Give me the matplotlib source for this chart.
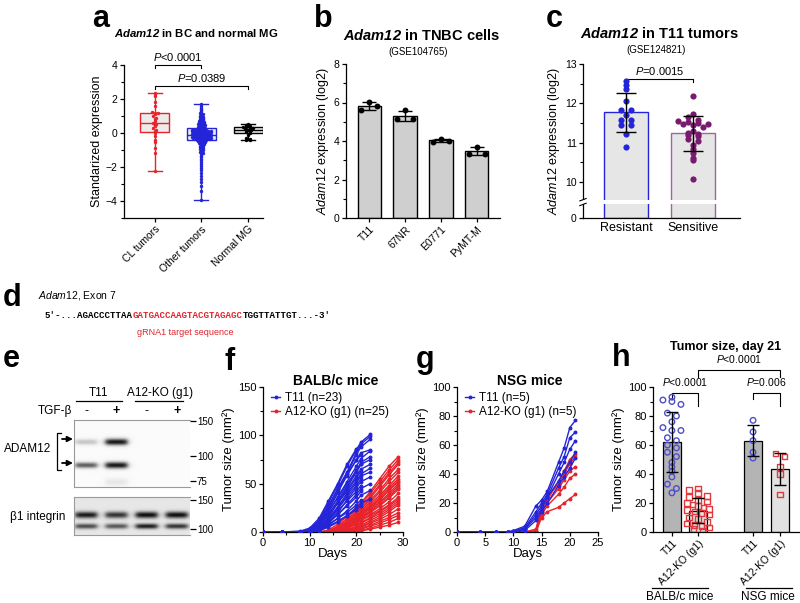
import numpy as np
import matplotlib
matplotlib.use('Agg')
import matplotlib.pyplot as plt
from matplotlib.lines import Line2D
from matplotlib.patches import Rectangle
from matplotlib.ticker import MultipleLocator, FixedLocator

plt.rcParams['font.family'] = ['Liberation Sans', 'DejaVu Sans']
plt.rcParams['font.size'] = 8
plt.rcParams['mathtext.fontset'] = 'custom'
plt.rcParams['mathtext.rm'] = 'Liberation Sans'
plt.rcParams['mathtext.it'] = 'Liberation Sans:italic'
plt.rcParams['mathtext.bf'] = 'Liberation Sans:bold'
plt.rcParams['mathtext.bfit'] = 'Liberation Sans:italic:bold'
plt.rcParams['axes.linewidth'] = 0.9
for a in ('xtick', 'ytick'):
    plt.rcParams[a + '.major.size'] = 3
    plt.rcParams[a + '.minor.size'] = 2
    plt.rcParams[a + '.major.width'] = 0.9
    plt.rcParams[a + '.minor.width'] = 0.8
    plt.rcParams[a + '.major.pad'] = 1.5

# ---------------- data ----------------
# a: Adam12 standardized expression
cl_tumors = [2.35, 2.3, 2.2, 1.85, 1.6, 1.25, 1.2, 1.15, 1.1, 1.0, 0.9, 0.8, 0.7, 0.6,
             0.55, 0.5, 0.4, 0.3, 0.2, 0.1, 0.0, -0.2, -0.4, -0.55, -0.9, -1.2, -2.25]
other_tumors = [1.72, 1.6, 1.5, 1.42, 1.35, 1.28, 1.2, 1.15, 1.1, 1.05, 1.0, 0.96, 0.92,
                0.88, 0.85, 0.82, 0.78, 0.75, 0.72, 0.7, 0.67, 0.64, 0.62, 0.6, 0.57, 0.55,
                0.52, 0.5, 0.48, 0.46, 0.44, 0.42, 0.4, 0.38, 0.36, 0.34, 0.32, 0.3, 0.28,
                0.26, 0.24, 0.22,
                0.2, 0.19, 0.18, 0.17, 0.16, 0.15, 0.15, 0.14, 0.13, 0.12, 0.12, 0.11, 0.1,
                0.09, 0.08, 0.08, 0.07, 0.06, 0.05, 0.04, 0.04, 0.03, 0.02, 0.01, 0.0, 0.0,
                -0.01, -0.02, -0.03, -0.04, -0.05, -0.05, -0.06, -0.07, -0.08, -0.09, -0.1,
                -0.1, -0.11, -0.12, -0.13, -0.14, -0.15, -0.15, -0.16, -0.17, -0.18, -0.19,
                -0.2, -0.2, -0.21, -0.22, -0.23, -0.24, -0.25, -0.25, -0.26, -0.27, -0.28,
                -0.29, -0.3, -0.3, -0.31, -0.32, -0.33, -0.34, -0.35, -0.35, -0.36, -0.37,
                -0.38, -0.39, -0.4, -0.4,
                -0.42, -0.44, -0.46, -0.48, -0.5, -0.52, -0.55, -0.58, -0.6, -0.63, -0.66,
                -0.7, -0.74, -0.78, -0.82, -0.86, -0.9, -0.95, -1.0, -1.05, -1.1, -1.15,
                -1.2, -1.28, -1.35, -1.42, -1.5, -1.6, -1.7, -1.8, -1.95, -2.05, -2.2,
                -2.35, -2.5, -2.7, -2.9, -3.1, -3.4, -3.95]
normal_mg = [0.55, 0.5, 0.45, 0.4, 0.35, 0.35, 0.3, 0.3, 0.25, 0.2, 0.2, 0.15, 0.1,
             0.05, 0.0, -0.1, -0.3, -0.35, -0.4, -0.4]
a_labels = ['CL tumors', 'Other tumors', 'Normal MG']

# b: TNBC cell lines
b_lines = ['T11', '67NR', 'E0771', 'PyMT-M']
b_values = [[6.05, 5.8, 5.6], [5.62, 5.15, 5.15], [4.12, 4.0, 3.97], [3.7, 3.35, 3.33]]

# c: T11 tumors
resistant = [12.56, 12.47, 12.36, 12.05, 11.84, 11.84, 11.71, 11.58, 11.58, 11.46,
             11.46, 11.23, 10.89]
sensitive = [12.18, 11.72, 11.65, 11.58, 11.55, 11.52, 11.50, 11.48, 11.47, 11.45,
             11.40, 11.30, 11.25, 11.22, 11.20, 11.18, 11.10, 11.05, 10.95, 10.85,
             10.75, 10.62, 10.55, 10.08]

# e: western blot band intensities (lane, kDa, intensity, width)
adam12_bands = [(1, 118, 0.22, 0.014), (2, 118, 0.95, 0.016), (1, 90, 0.65, 0.014),
                (2, 90, 0.95, 0.016), (2, 74, 0.08, 0.02)]
itgb1_bands = [(1, 122, 0.85, 0.02), (1, 104, 0.65, 0.016), (2, 122, 0.75, 0.02),
               (2, 104, 0.6, 0.016), (3, 122, 0.9, 0.02), (3, 104, 0.85, 0.016),
               (4, 122, 0.9, 0.02), (4, 104, 0.75, 0.016)]

# f: BALB/c tumour growth
balb_t11_days = [0, 4, 8, 10, 12, 14, 16, 18, 20, 21, 23]
balb_t11 = [
    [0, 0, 0, 3, 12, 30, 48, 68, 85, 93, 101],
    [0, 0, 0, 2, 10, 26, 45, 62, 82, 91, 99],
    [0, 0, 1, 4, 14, 32, 50, 70, 86, 90, np.nan],
    [0, 0, 0, 2, 8, 22, 40, 60, 80, 88, 96],
    [0, 0, 0, 1, 9, 24, 42, 58, 75, 82, 85],
    [0, 0, 0, 3, 11, 27, 44, 60, 74, 80, np.nan],
    [0, 0, 0, 2, 8, 20, 36, 52, 68, 76, 84],
    [0, 0, 0, 1, 6, 18, 32, 48, 64, 72, 78],
    [0, 0, 0, 2, 9, 21, 35, 50, 63, 70, np.nan],
    [0, 0, 0, 1, 5, 15, 30, 46, 62, 70, 75],
    [0, 0, 0, 1, 7, 17, 30, 44, 58, 65, 70],
    [0, 0, 0, 2, 8, 18, 30, 42, 56, 63, np.nan],
    [0, 0, 0, 1, 5, 14, 26, 40, 53, 60, 66],
    [0, 0, 0, 0, 4, 12, 24, 38, 51, 58, 62],
    [0, 0, 0, 1, 6, 14, 24, 36, 48, 55, np.nan],
    [0, 0, 0, 0, 3, 10, 20, 33, 46, 52, 57],
    [0, 0, 0, 1, 5, 12, 22, 32, 42, 48, np.nan],
    [0, 0, 0, 0, 3, 9, 18, 28, 39, 45, 50],
    [0, 0, 0, 0, 4, 10, 18, 27, 36, 42, np.nan],
    [0, 0, 0, 0, 2, 7, 14, 22, 32, 38, 43],
    [0, 0, 0, 0, 3, 8, 14, 20, 28, 33, np.nan],
    [0, 0, 0, 0, 1, 5, 10, 17, 25, 30, 34],
    [0, 0, 0, 0, 2, 6, 11, 17, 23, 27, np.nan],
]
balb_ko_days = [0, 12, 14, 16, 18, 20, 21, 23, 25, 27, 29]
balb_ko = [
    [0, 0, 2, 8, 16, 26, 30, 42, 55, 68, 78],
    [0, 0, 1, 6, 14, 24, 29, 40, 52, 64, 75],
    [0, 0, 1, 5, 12, 22, 27, 37, 49, 61, 72],
    [0, 0, 0, 4, 11, 20, 25, 35, 47, 59, 70],
    [0, 0, 0, 4, 10, 19, 24, 33, 43, 55, 65],
    [0, 0, 0, 3, 9, 17, 22, 31, 41, 52, 62],
    [0, 0, 0, 3, 8, 16, 21, 29, 38, 48, 58],
    [0, 0, 0, 2, 8, 15, 20, 27, 36, 46, 55],
    [0, 0, 0, 2, 7, 14, 19, 26, 34, 44, 53],
    [0, 0, 0, 2, 6, 13, 18, 25, 33, 43, 52],
    [0, 0, 0, 1, 6, 12, 17, 24, 31, 40, 50],
    [0, 0, 0, 1, 5, 11, 16, 22, 30, 38, 48],
    [0, 0, 0, 1, 5, 10, 15, 21, 28, 36, 46],
    [0, 0, 0, 1, 4, 9, 14, 20, 27, 35, 44],
    [0, 0, 0, 1, 4, 9, 13, 18, 24, 31, 40],
    [0, 0, 0, 0, 3, 8, 12, 17, 22, 28, 36],
    [0, 0, 0, 0, 2, 6, 10, 15, 21, 27, 34],
    [0, 0, 0, 0, 2, 5, 9, 14, 19, 25, 32],
    [0, 0, 0, 0, 1, 4, 7, 12, 17, 23, 30],
    [0, 0, 0, 0, 1, 3, 6, 10, 15, 21, 28],
    [0, 0, 0, 0, 1, 3, 5, 9, 13, 18, 24],
    [0, 0, 0, 0, 0, 2, 4, 7, 11, 15, 20],
    [0, 0, 0, 0, 0, 1, 3, 6, 9, 13, 17],
    [0, 0, 0, 0, 0, 1, 2, 4, 7, 10, 14],
    [0, 0, 0, 0, 0, 0, 1, 3, 5, 7, 10],
]

# g: NSG tumour growth
nsg_days = [0, 4, 7, 9, 10, 12, 14, 15, 16, 18, 19, 20, 21]
nsg_t11 = [
    [0, 0, 0, 0, 1, 4, 18, 22, 28, 48, 58, 72, 77],
    [0, 0, 0, 0, 0.5, 3, 14, 20, 26, 44, 52, 65, 69],
    [0, 0, 0, 0, 0.5, 2, 10, 16, 24, 40, 48, 57, 63],
    [0, 0, 0, 0, 0, 2, 12, 18, 24, 35, 42, 48, 55],
    [0, 0, 0, 0, 0, 1, 8, 14, 20, 32, 38, 44, 51],
]
nsg_ko = [
    [0, 0, 0, 0, 0, 0, 1, 16, 22, 35, 42, 50, 54],
    [0, 0, 0, 0, 0, 0, 2, 18, 24, 33, 40, 47, 52],
    [0, 0, 0, 0, 0, 0, 0, 14, 20, 30, 36, 42, 45],
    [0, 0, 0, 0, 0, 0, 0, 12, 18, 26, 31, 37, 40],
    [0, 0, 0, 0, 0, 0, 0, 10, 14, 17, 20, 23, 26],
]

BLUE = '#2424d8'
RED = '#e8232b'
PURPLE = '#7a1a6e'

W, H = 800, 603
fig = plt.figure(figsize=(W / 100, H / 100), dpi=100)


def rect(l, t, r, b):
    return [l / W, 1 - b / H, (r - l) / W, (b - t) / H]


def ftext(x, y, s, **kw):
    return fig.text(x / W, 1 - y / H, s, **kw)


def fline(xs, ys, **kw):
    fig.add_artist(Line2D(np.array(xs) / W, 1 - np.array(ys) / H, color='k', lw=0.9, **kw))


def clean(ax):
    ax.spines['top'].set_visible(False)
    ax.spines['right'].set_visible(False)


def swarm(vals, bin_size, step, max_w):
    vals = np.asarray(vals, dtype=float)
    offs = np.zeros(len(vals))
    bins = np.round(vals / bin_size)
    for b in np.unique(bins):
        idx = np.where(bins == b)[0]
        n = len(idx)
        if n > 1:
            w = min(max_w, step * (n - 1) / 2)
            offs[idx] = np.linspace(-w, w, n)
    return offs


def bracket(ax, x0, x1, y, d0, d1, text, ty, fs=8, color='k', lw=0.8):
    ax.plot([x0, x0, x1, x1], [y - d0, y, y, y - d1], color=color, lw=lw, clip_on=False)
    ax.text((x0 + x1) / 2, ty, text, ha='center', va='bottom', fontsize=fs, clip_on=False)


def letter(x, y, s):
    ftext(x, y, s, fontsize=22, fontweight='bold', va='baseline')


# ---------------- a ----------------
ax = fig.add_axes(rect(124, 65, 263, 218))
clean(ax)
a_data = [cl_tumors, other_tumors, normal_mg]
a_colors = [RED, BLUE, 'k']
bp = ax.boxplot(a_data, positions=[0, 1, 2], widths=0.62, whis=(0, 100), patch_artist=True,
                showfliers=False, capwidths=0.3)
for i, c in enumerate(a_colors):
    bp['boxes'][i].set(facecolor='#ececec', edgecolor=c, lw=1)
    bp['medians'][i].set(color=c, lw=1)
    for k in (2 * i, 2 * i + 1):
        bp['whiskers'][k].set(color=c, lw=1)
        bp['caps'][k].set(color=c, lw=1)
a_swarm = [(0.12, 0.07, 0.28), (0.07, 0.05, 0.33), (0.1, 0.07, 0.28)]
for i, (vals, c) in enumerate(zip(a_data, a_colors)):
    bs, st, mw = a_swarm[i]
    ax.scatter(i + swarm(vals, bs, st, mw), vals, s=6, color=c, lw=0, zorder=3)
ax.set_xlim(-0.66, 2.32)
ax.set_ylim(-5, 4)
ax.set_yticks([-4, -2, 0, 2, 4])
ax.yaxis.set_minor_locator(MultipleLocator(1))
ax.set_xticks([0, 1, 2])
ax.set_xticklabels(a_labels, rotation=45, ha='right', rotation_mode='anchor', fontsize=8.5)
ax.tick_params(labelsize=7.5)
ax.set_ylabel('Standarized expression', fontsize=9, labelpad=2)
bracket(ax, 0, 1, 4.0, 0.2, 0.2, r'$\mathit{P}$<0.0001', 4.12, fs=8)
bracket(ax, 0, 2, 2.76, 0.2, 0.2, r'$\mathit{P}$=0.0389', 2.9, fs=8)
letter(92, 27, 'a')
ftext(196, 33, r'$\mathbfit{Adam12}$ in BC and normal MG', fontsize=8.2, fontweight='bold',
      ha='center', va='center')

# ---------------- b ----------------
ax = fig.add_axes(rect(346, 64, 500, 218))
clean(ax)
bx = np.arange(len(b_lines))
b_mean = [np.mean(v) for v in b_values]
b_sd = [np.std(v, ddof=1) for v in b_values]
ax.bar(bx, b_mean, width=0.65, color='#cfcfcf', edgecolor='k', lw=1, zorder=1)
ax.errorbar(bx, b_mean, yerr=b_sd, fmt='none', ecolor='k', elinewidth=1, capsize=5,
            capthick=1, zorder=2)
b_offsets = [0.0, 0.22, -0.22]
for i, vals in enumerate(b_values):
    ax.scatter(i + np.array(b_offsets), vals, s=18, color='k', lw=0, zorder=3)
ax.set_xlim(-0.65, 3.65)
ax.set_ylim(0, 8)
ax.set_yticks([0, 2, 4, 6, 8])
ax.yaxis.set_minor_locator(MultipleLocator(1))
ax.set_xticks(bx)
ax.set_xticklabels(b_lines, rotation=45, ha='right', rotation_mode='anchor', fontsize=8.5)
ax.tick_params(labelsize=7.5)
ax.set_ylabel(r'$\mathit{Adam12}$ expression (log2)', fontsize=9, labelpad=2)
letter(314, 27, 'b')
ftext(422, 35, r'$\mathbfit{Adam12}$ in TNBC cells', fontsize=10.5, fontweight='bold',
      ha='center', va='center')
ftext(418, 52, '(GSE104765)', fontsize=7, ha='center', va='center')

# ---------------- c ----------------
ax = fig.add_axes(rect(583, 64, 740, 218))
clean(ax)
c_floor = 9.085
c_groups = [resistant, sensitive]
c_edges = [BLUE, '#a065a0']
c_dots = [BLUE, PURPLE]
for i, vals in enumerate(c_groups):
    m, s = np.mean(vals), np.std(vals, ddof=1)
    ax.bar(i, m - c_floor, bottom=c_floor, width=0.65, color='#e6e6e6', edgecolor=c_edges[i],
           lw=1, zorder=1)
    ax.errorbar(i, m, yerr=s, fmt='none', ecolor='k', elinewidth=1, capsize=7, capthick=1,
                zorder=4)
    ax.scatter(i + swarm(vals, 0.09, 0.15, 0.3), vals, s=20, color=c_dots[i], lw=0, zorder=3)
ax.set_xlim(-0.64, 1.7)
ax.set_ylim(c_floor, 13)
ax.set_yticks([c_floor, 10, 11, 12, 13])
ax.set_yticklabels(['0', '10', '11', '12', '13'])
ax.yaxis.set_minor_locator(FixedLocator([10.5, 11.5, 12.5]))
ax.set_xticks([0, 1])
ax.set_xticklabels(['Resistant', 'Sensitive'], fontsize=9)
ax.tick_params(labelsize=7.5)
ax.tick_params(axis='x', length=0, pad=3, labelsize=9)
brk = ax.get_yaxis_transform()
ax.add_patch(Rectangle((-0.03, 9.43), 1.03, 0.12, transform=brk, color='white', zorder=5,
                       clip_on=False, lw=0))
for yb in (9.43, 9.55):
    ax.plot([-0.02, 0.02], [yb - 0.03, yb + 0.03], transform=brk, color='k', lw=0.8,
            clip_on=False, zorder=6)
ax.set_ylabel(r'$\mathit{Adam12}$ expression (log2)', fontsize=9, labelpad=2)
bracket(ax, 0, 1, 12.63, 0.1, 0.1, r'$\mathit{P}$=0.0015', 12.68, fs=8)
letter(546, 27, 'c')
ftext(659, 33, r'$\mathbfit{Adam12}$ in T11 tumors', fontsize=10.5, fontweight='bold',
      ha='center', va='center')
ftext(656, 50, '(GSE124821)', fontsize=7, ha='center', va='center')

# ---------------- d ----------------
letter(3, 306, 'd')
ftext(38, 296, r'$\mathit{Adam12}$, Exon 7', fontsize=7.5, va='center')
renderer = fig.canvas.get_renderer()
xcur = 45
for part, col in [("5'-...AGACCCTTAA", 'k'), ('GATGACCAAGTACGTAGAGC', '#e0262e'),
                  ("TGGTTATTGT...-3'", 'k')]:
    t = ftext(xcur, 316, part, fontsize=6.6, family='Liberation Mono', color=col,
              va='center', fontweight='bold')
    xcur += t.get_window_extent(renderer).width
ftext(185, 332, 'gRNA1 target sequence', fontsize=6.5, color='#e0262e', ha='center',
      va='center')

# ---------------- e ----------------
letter(3, 367, 'e')


def blot(ax, bands, ylo, yhi, bg):
    xs = np.linspace(0.6, 4.43, 300)
    ys = np.linspace(np.log10(ylo), np.log10(yhi), 160)
    img = np.full((len(ys), len(xs)), bg)
    for lane, kda, inten, wid in bands:
        gx = 1 / (1 + np.exp((np.abs(xs - lane) - 0.36) / 0.05))
        gy = np.exp(-((ys - np.log10(kda)) / wid) ** 2)
        img += inten * gy[:, None] * gx[None, :]
    ax.imshow(np.clip(img, 0, 1), extent=[0.6, 4.43, ys[0], ys[-1]], origin='lower',
              aspect='auto', cmap='gray_r', vmin=0, vmax=1.05, interpolation='bilinear')
    ax.set_xlim(0.6, 4.43)
    ax.set_ylim(ys[0], ys[-1])
    ax.set_xticks([])
    ax.yaxis.tick_right()
    ax.tick_params(axis='y', length=4, width=0.9, pad=1, labelsize=7)
    for sp in ax.spines.values():
        sp.set_color('#9a9a9a')
        sp.set_linewidth(0.8)
    ax.spines['right'].set_visible(False)


ax_up = fig.add_axes(rect(74, 420, 190, 487))
blot(ax_up, adam12_bands, 70, 152, 0.02)
ax_up.set_yticks(np.log10([150, 100, 75]))
ax_up.set_yticklabels(['150', '100', '75'])
ax_lo = fig.add_axes(rect(74, 497, 190, 535))
blot(ax_lo, itgb1_bands, 92, 157, 0.1)
ax_lo.set_yticks(np.log10([150, 100]))
ax_lo.set_yticklabels(['150', '100'])

tr = ax_up.get_xaxis_transform()
for lane, sign in zip([1, 2, 3, 4], ['-', '+', '-', '+']):
    ax_up.text(lane, 1.13, sign, transform=tr, ha='center', va='center', fontsize=9,
               fontweight='bold' if sign == '+' else 'normal')
ax_up.plot([0.67, 2.2], [1.285, 1.285], transform=tr, color='k', lw=0.9, clip_on=False)
ax_up.plot([2.6, 4.2], [1.285, 1.285], transform=tr, color='k', lw=0.9, clip_on=False)
ax_up.text(1.4, 1.40, 'T11', transform=tr, ha='center', va='center', fontsize=8.5)
ax_up.text(3.43, 1.40, 'A12-KO (g1)', transform=tr, ha='center', va='center', fontsize=8.5)
ftext(72, 411, 'TGF-β', ha='right', va='center', fontsize=8.5)
ftext(28, 449, 'ADAM12', ha='center', va='center', fontsize=8.5)
fline([61, 57, 57, 61], [433, 433, 470, 470])
for yy in (439, 463):
    fig.add_artist(plt.Annotation('', xy=(73 / W, 1 - yy / H), xytext=(62 / W, 1 - yy / H),
                                  xycoords='figure fraction',
                                  arrowprops=dict(arrowstyle='-|>', color='k', lw=1.3,
                                                  mutation_scale=8, shrinkA=0, shrinkB=0)))
ftext(38, 517, 'β1 integrin', ha='center', va='center', fontsize=8.5)


# ---------------- f & g ----------------
def growth(ax, days_a, curves_a, days_b, curves_b, labels):
    for cv in curves_b:
        ax.plot(days_b, cv, '-o', color=RED, lw=1, ms=1.8, zorder=2)
    for cv in curves_a:
        ax.plot(days_a, cv, '-o', color=BLUE, lw=1, ms=1.8, zorder=3)
    clean(ax)
    handles = [Line2D([], [], color=BLUE, marker='o', ms=1.8, lw=1),
               Line2D([], [], color=RED, marker='o', ms=1.8, lw=1)]
    ax.legend(handles, labels, loc='upper left', bbox_to_anchor=(0.04, 0.98), frameon=False,
              fontsize=8.5, handlelength=0.8, handletextpad=0.4, labelspacing=0.15,
              borderaxespad=0, borderpad=0.2)
    ax.set_ylabel('Tumor size (mm²)', fontsize=9.5, labelpad=2)
    ax.set_xlabel('Days', fontsize=9.5, labelpad=0)
    ax.tick_params(labelsize=8)


ax = fig.add_axes(rect(263, 387, 403, 532))
growth(ax, balb_t11_days, balb_t11, balb_ko_days, balb_ko, ['T11 (n=23)', 'A12-KO (g1) (n=25)'])
ax.set_xlim(0, 30)
ax.set_ylim(0, 150)
ax.set_xticks([0, 10, 20, 30])
ax.set_yticks([0, 50, 100, 150])
ax.yaxis.set_minor_locator(MultipleLocator(25))
ax.xaxis.set_minor_locator(MultipleLocator(5))
letter(224, 370, 'f')
ftext(336, 381, 'BALB/c mice', fontsize=10, fontweight='bold', ha='center', va='center')

ax = fig.add_axes(rect(457, 387, 598, 532))
growth(ax, nsg_days, nsg_t11, nsg_days, nsg_ko, ['T11 (n=5)', 'A12-KO (g1) (n=5)'])
ax.set_xlim(0, 25)
ax.set_ylim(0, 100)
ax.set_xticks([0, 5, 10, 15, 20, 25])
ax.set_yticks([0, 20, 40, 60, 80, 100])
ax.yaxis.set_minor_locator(MultipleLocator(10))
letter(416, 368, 'g')
ftext(530, 381, 'NSG mice', fontsize=10, fontweight='bold', ha='center', va='center')

# ---------------- h ----------------
i21 = balb_t11_days.index(21)
j21 = balb_ko_days.index(21)
k21 = nsg_days.index(21)
h_groups = [[c[i21] for c in balb_t11], [c[j21] for c in balb_ko],
            [c[k21] for c in nsg_t11], [c[k21] for c in nsg_ko]]
h_labels = ['T11', 'A12-KO (g1)', 'T11', 'A12-KO (g1)']
hx = [1.05, 2.5, 5.55, 7.05]
h_fill = ['#b4b4b4', '#e2e2e2', '#b4b4b4', '#e2e2e2']
h_edge = ['#4f4fc4', '#e0393e', '#4f4fc4', '#e0393e']
h_mark = ['o', 's', 'o', 's']
h_spread = [0.95, 0.6, 0.4, 0.4]
ax = fig.add_axes(rect(653, 387, 799, 532))
clean(ax)
for i, vals in enumerate(h_groups):
    m, s = np.mean(vals), np.std(vals, ddof=1)
    ax.bar(hx[i], m, width=1.0, color=h_fill[i], edgecolor='k', lw=0.9, zorder=1)
    ax.errorbar(hx[i], m, yerr=s, fmt='none', ecolor='k', elinewidth=1, capsize=4.5,
                capthick=1, zorder=4)
    ax.scatter(hx[i] + swarm(vals, 4.5, 0.5, h_spread[i]), vals, s=16, marker=h_mark[i],
               facecolor='none', edgecolor=h_edge[i], lw=1, zorder=3)
ax.set_xlim(0, 8.1)
ax.set_ylim(0, 100)
ax.set_yticks([0, 20, 40, 60, 80, 100])
ax.yaxis.set_minor_locator(MultipleLocator(10))
ax.set_xticks(hx)
ax.set_xticklabels(h_labels, rotation=45, ha='right', rotation_mode='anchor', fontsize=7.5)
ax.tick_params(labelsize=8)
ax.tick_params(axis='x', labelsize=7.5)
ax.set_ylabel('Tumor size (mm²)', fontsize=9.5, labelpad=2)
bracket(ax, hx[0], hx[1], 96, 4, 9, r'$\mathit{P}$<0.0001', 99, fs=7.5)
bracket(ax, hx[2], hx[3], 96, 4, 9, r'$\mathit{P}$=0.006', 99, fs=7.5)
bracket(ax, hx[1], hx[3], 112, 5, 5, r'$\mathit{P}$<0.0001', 115, fs=7.5)
fline([652, 708], [588, 588])
fline([746, 792], [588, 588])
ftext(680, 597, 'BALB/c mice', fontsize=8.5, ha='center', va='center')
ftext(768, 597, 'NSG mice', fontsize=8.5, ha='center', va='center')
letter(612, 366, 'h')
ftext(726, 347, 'Tumor size, day 21', fontsize=9, fontweight='bold', ha='center', va='center')

fig.savefig('out.png', dpi=100)
